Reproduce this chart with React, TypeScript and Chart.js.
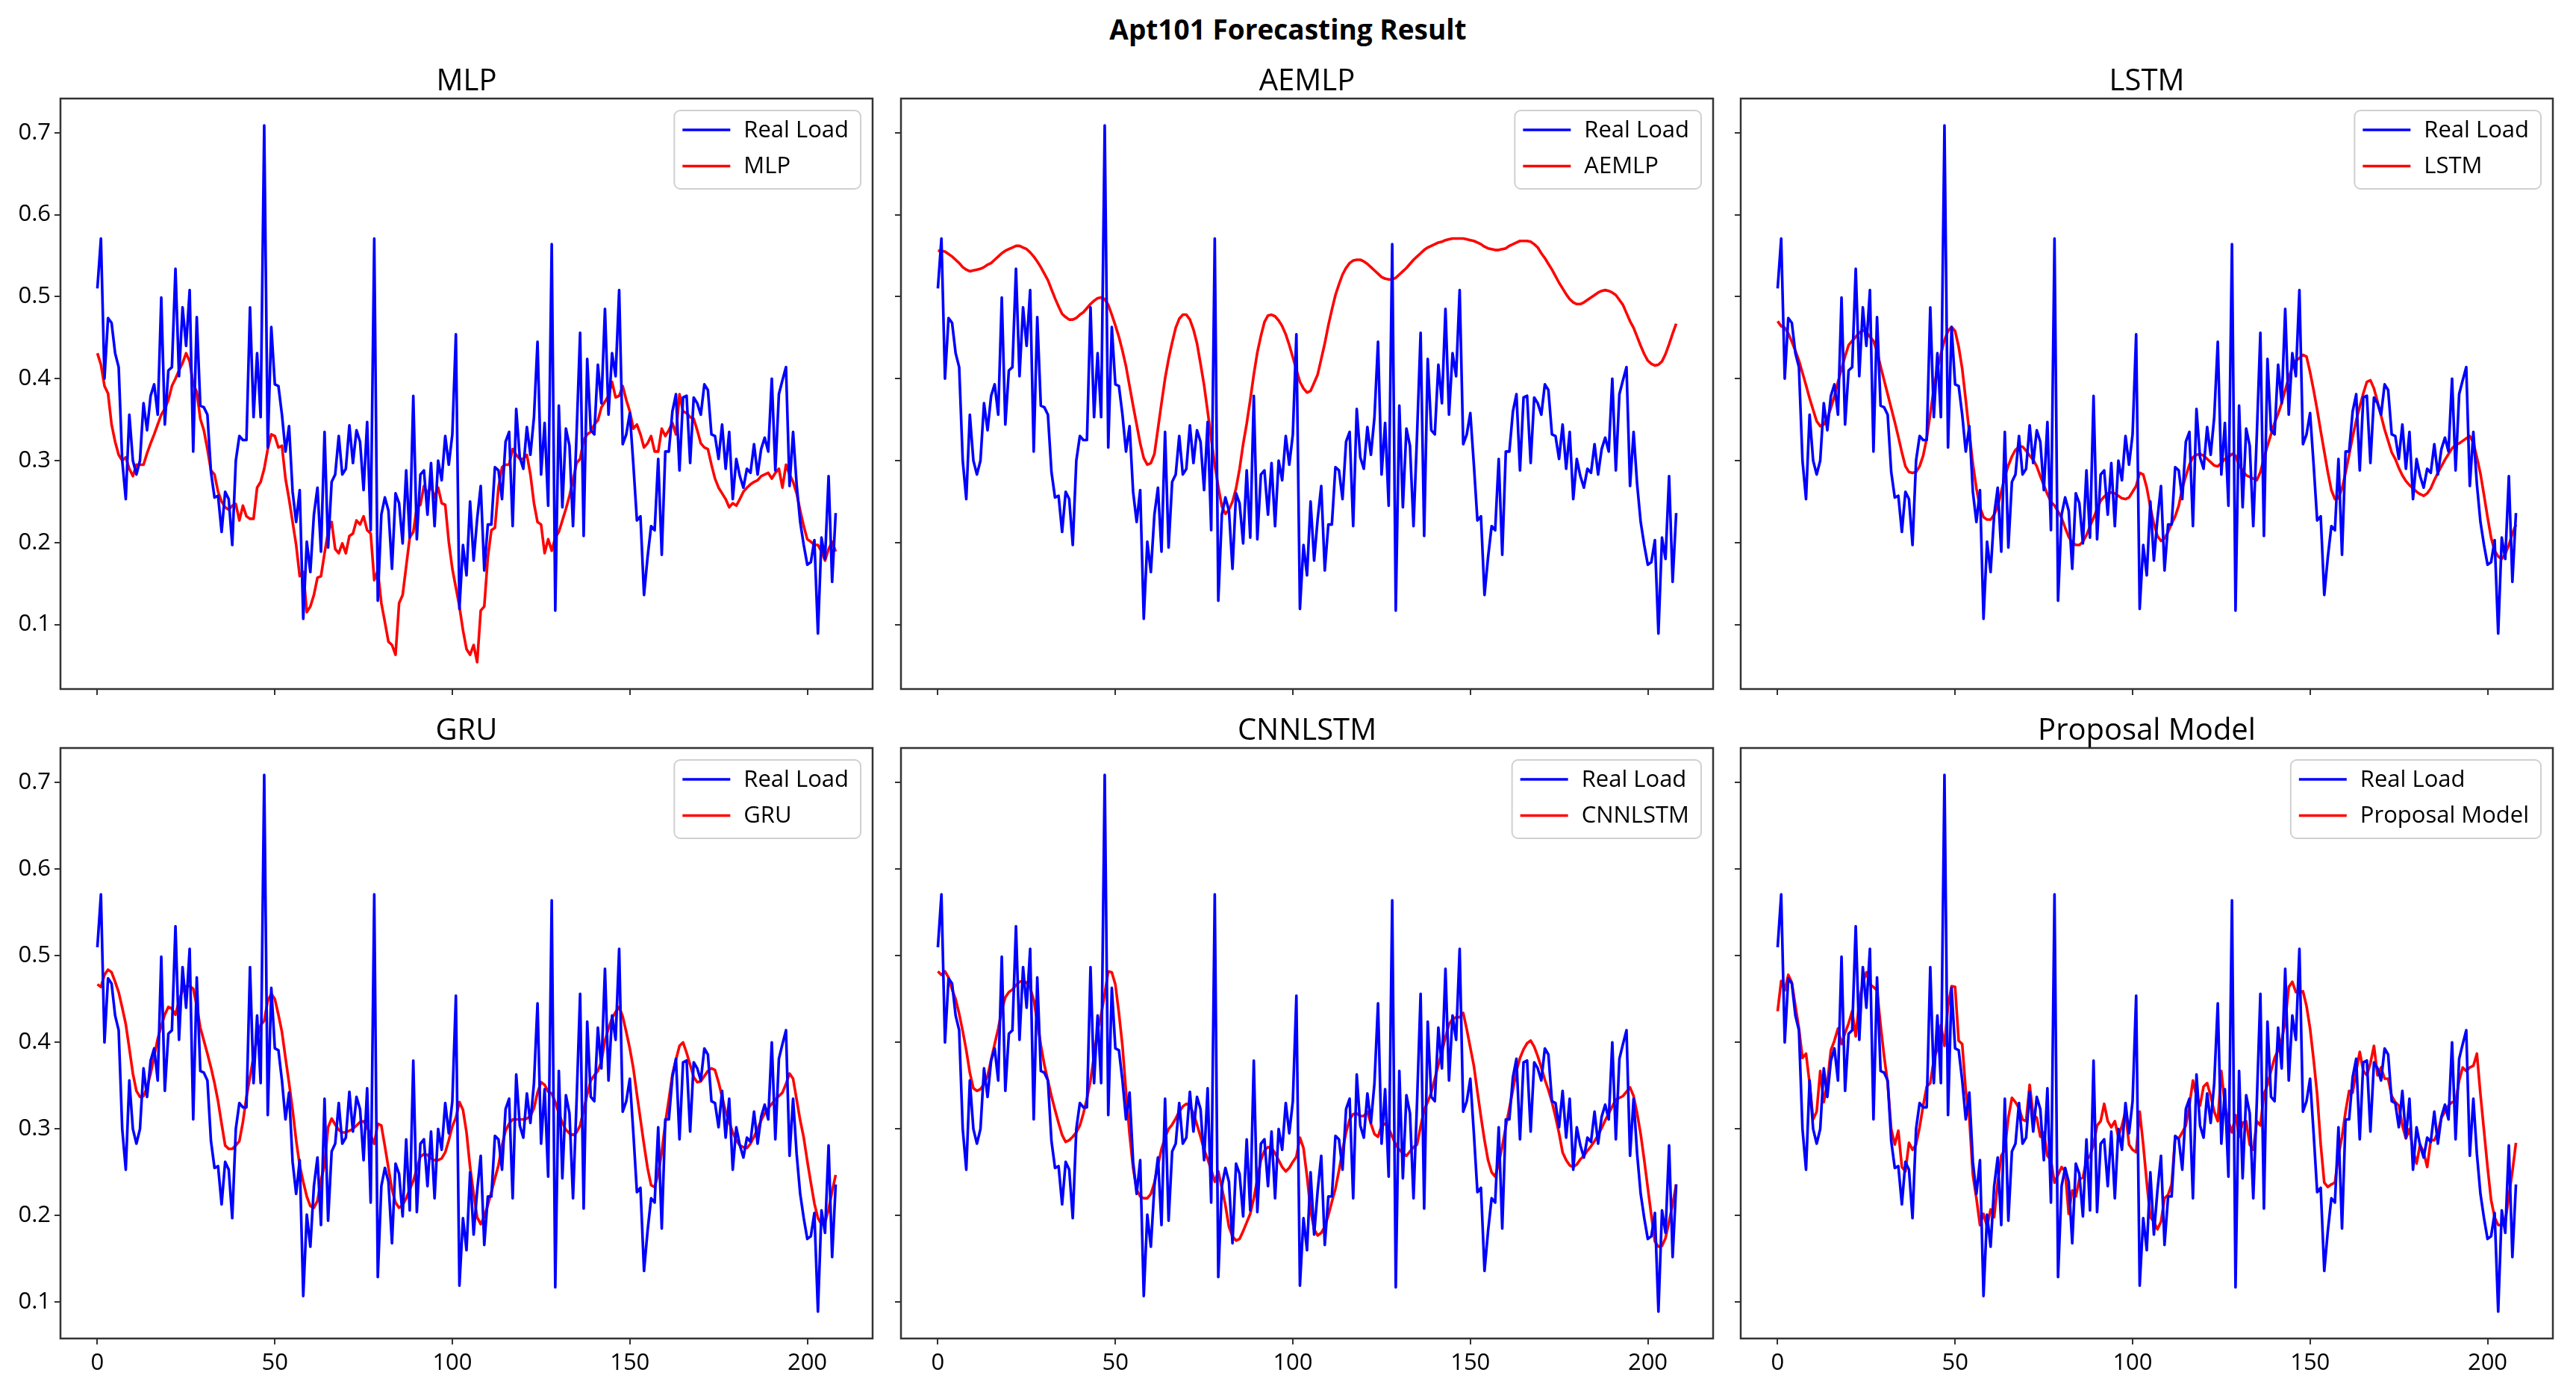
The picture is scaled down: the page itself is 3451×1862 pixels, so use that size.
import React, { useEffect, useRef } from "react";
import { Chart, registerables } from "chart.js";

Chart.register(...registerables);

// ---------------- data ----------------
const MAIN_TITLE = "Apt101 Forecasting Result";
const REAL_LABEL = "Real Load";
const MODEL_NAMES = ["MLP", "AEMLP", "LSTM", "GRU", "CNNLSTM", "Proposal Model"];
const X_TICKS = [0, 50, 100, 150, 200];
const Y_TICKS = [0.1, 0.2, 0.3, 0.4, 0.5, 0.6, 0.7];

const REAL_LOAD = [
  0.510, 0.571, 0.400, 0.474, 0.468, 0.431, 0.414, 0.300, 0.253, 0.356,
  0.300, 0.283, 0.300, 0.370, 0.337, 0.379, 0.393, 0.356, 0.499, 0.344,
  0.410, 0.414, 0.534, 0.403, 0.487, 0.440, 0.508, 0.311, 0.475, 0.367,
  0.365, 0.356, 0.286, 0.255, 0.257, 0.213, 0.262, 0.253, 0.197, 0.300,
  0.330, 0.325, 0.325, 0.487, 0.353, 0.431, 0.353, 0.709, 0.316, 0.463,
  0.393, 0.391, 0.356, 0.311, 0.342, 0.262, 0.225, 0.264, 0.107, 0.201,
  0.164, 0.234, 0.267, 0.189, 0.335, 0.194, 0.274, 0.283, 0.330, 0.283,
  0.290, 0.343, 0.297, 0.337, 0.323, 0.264, 0.347, 0.215, 0.571, 0.129,
  0.234, 0.255, 0.239, 0.168, 0.260, 0.248, 0.199, 0.288, 0.206, 0.379,
  0.204, 0.283, 0.288, 0.234, 0.297, 0.220, 0.300, 0.276, 0.330, 0.295,
  0.332, 0.454, 0.119, 0.197, 0.160, 0.250, 0.178, 0.229, 0.269, 0.166,
  0.222, 0.222, 0.292, 0.288, 0.253, 0.323, 0.335, 0.220, 0.363, 0.304,
  0.290, 0.341, 0.307, 0.353, 0.445, 0.283, 0.346, 0.245, 0.564, 0.117,
  0.367, 0.243, 0.339, 0.318, 0.220, 0.332, 0.456, 0.208, 0.424, 0.337,
  0.332, 0.417, 0.370, 0.485, 0.356, 0.431, 0.403, 0.508, 0.320, 0.332,
  0.358, 0.295, 0.227, 0.232, 0.136, 0.182, 0.220, 0.215, 0.302, 0.185,
  0.311, 0.311, 0.360, 0.381, 0.288, 0.377, 0.379, 0.297, 0.377, 0.370,
  0.356, 0.393, 0.386, 0.332, 0.330, 0.302, 0.344, 0.290, 0.335, 0.253,
  0.302, 0.281, 0.267, 0.290, 0.285, 0.320, 0.283, 0.314, 0.328, 0.311,
  0.400, 0.288, 0.381, 0.398, 0.414, 0.269, 0.335, 0.271, 0.225, 0.197,
  0.173, 0.176, 0.203, 0.089, 0.206, 0.180, 0.281, 0.152, 0.236,
];

const MLP = [
  0.431, 0.417, 0.391, 0.382, 0.344, 0.323, 0.307, 0.300, 0.304, 0.290,
  0.281, 0.295, 0.295, 0.295, 0.309, 0.321, 0.332, 0.344, 0.356, 0.363,
  0.374, 0.391, 0.400, 0.410, 0.419, 0.431, 0.421, 0.393, 0.384, 0.351,
  0.337, 0.314, 0.288, 0.283, 0.262, 0.250, 0.243, 0.240, 0.245, 0.247,
  0.227, 0.245, 0.232, 0.229, 0.229, 0.267, 0.274, 0.290, 0.314, 0.332,
  0.330, 0.316, 0.318, 0.278, 0.253, 0.225, 0.197, 0.159, 0.164, 0.115,
  0.122, 0.136, 0.157, 0.159, 0.187, 0.213, 0.225, 0.192, 0.187, 0.199,
  0.187, 0.208, 0.211, 0.227, 0.222, 0.232, 0.215, 0.211, 0.154, 0.166,
  0.126, 0.103, 0.079, 0.075, 0.063, 0.126, 0.136, 0.171, 0.206, 0.213,
  0.243, 0.246, 0.269, 0.260, 0.269, 0.255, 0.267, 0.248, 0.246, 0.201,
  0.168, 0.145, 0.122, 0.093, 0.070, 0.063, 0.075, 0.054, 0.117, 0.122,
  0.182, 0.215, 0.218, 0.267, 0.292, 0.295, 0.295, 0.314, 0.307, 0.302,
  0.302, 0.307, 0.283, 0.248, 0.225, 0.222, 0.187, 0.204, 0.190, 0.206,
  0.213, 0.227, 0.241, 0.257, 0.276, 0.297, 0.302, 0.325, 0.332, 0.335,
  0.344, 0.349, 0.365, 0.372, 0.379, 0.396, 0.377, 0.379, 0.391, 0.374,
  0.360, 0.339, 0.344, 0.332, 0.316, 0.321, 0.330, 0.311, 0.311, 0.339,
  0.330, 0.337, 0.346, 0.332, 0.381, 0.360, 0.358, 0.353, 0.351, 0.337,
  0.321, 0.316, 0.314, 0.295, 0.278, 0.267, 0.260, 0.253, 0.243, 0.248,
  0.245, 0.253, 0.262, 0.267, 0.271, 0.274, 0.276, 0.281, 0.283, 0.285,
  0.278, 0.285, 0.290, 0.267, 0.295, 0.283, 0.274, 0.260, 0.239, 0.220,
  0.204, 0.201, 0.197, 0.197, 0.189, 0.178, 0.192, 0.201, 0.189,
];

const AEMLP = [
  0.556, 0.556, 0.555, 0.552, 0.549, 0.545, 0.541, 0.536, 0.533, 0.531,
  0.532, 0.533, 0.534, 0.536, 0.539, 0.541, 0.545, 0.549, 0.553, 0.556,
  0.558, 0.560, 0.562, 0.562, 0.560, 0.558, 0.554, 0.549, 0.543, 0.536,
  0.528, 0.520, 0.509, 0.498, 0.488, 0.479, 0.475, 0.472, 0.472, 0.474,
  0.478, 0.481, 0.486, 0.491, 0.495, 0.498, 0.499, 0.497, 0.490, 0.478,
  0.465, 0.451, 0.434, 0.415, 0.391, 0.367, 0.344, 0.321, 0.303, 0.295,
  0.297, 0.308, 0.339, 0.370, 0.400, 0.424, 0.444, 0.462, 0.473, 0.478,
  0.478, 0.472, 0.460, 0.443, 0.418, 0.392, 0.360, 0.327, 0.295, 0.268,
  0.244, 0.235, 0.240, 0.250, 0.266, 0.290, 0.320, 0.345, 0.374, 0.405,
  0.432, 0.452, 0.469, 0.477, 0.478, 0.476, 0.471, 0.464, 0.454, 0.441,
  0.426, 0.411, 0.396, 0.388, 0.383, 0.385, 0.395, 0.405, 0.424, 0.443,
  0.465, 0.484, 0.502, 0.515, 0.527, 0.535, 0.541, 0.544, 0.545, 0.545,
  0.543, 0.540, 0.536, 0.532, 0.528, 0.524, 0.522, 0.521, 0.521, 0.523,
  0.527, 0.531, 0.535, 0.540, 0.545, 0.549, 0.553, 0.557, 0.560, 0.562,
  0.564, 0.566, 0.567, 0.569, 0.570, 0.571, 0.571, 0.571, 0.571, 0.570,
  0.569, 0.568, 0.566, 0.564, 0.561, 0.559, 0.558, 0.557, 0.557, 0.558,
  0.559, 0.562, 0.564, 0.566, 0.568, 0.568, 0.568, 0.567, 0.564, 0.560,
  0.553, 0.547, 0.540, 0.533, 0.525, 0.517, 0.510, 0.503, 0.497, 0.493,
  0.491, 0.491, 0.493, 0.496, 0.499, 0.502, 0.505, 0.507, 0.508, 0.507,
  0.505, 0.502, 0.496, 0.490, 0.480, 0.470, 0.462, 0.451, 0.440, 0.430,
  0.422, 0.418, 0.416, 0.417, 0.421, 0.430, 0.442, 0.455, 0.467,
];

const LSTM = [
  0.470, 0.464, 0.462, 0.455, 0.445, 0.434, 0.422, 0.407, 0.392, 0.376,
  0.362, 0.348, 0.342, 0.344, 0.352, 0.364, 0.379, 0.396, 0.412, 0.427,
  0.441, 0.446, 0.451, 0.456, 0.459, 0.457, 0.451, 0.446, 0.433, 0.415,
  0.398, 0.381, 0.364, 0.347, 0.329, 0.310, 0.293, 0.286, 0.285, 0.286,
  0.293, 0.306, 0.327, 0.357, 0.388, 0.412, 0.430, 0.447, 0.458, 0.463,
  0.458, 0.439, 0.412, 0.374, 0.334, 0.296, 0.266, 0.243, 0.231, 0.228,
  0.228, 0.234, 0.244, 0.262, 0.280, 0.294, 0.305, 0.313, 0.317, 0.317,
  0.312, 0.306, 0.301, 0.293, 0.281, 0.270, 0.259, 0.250, 0.245, 0.238,
  0.230, 0.218, 0.207, 0.200, 0.197, 0.197, 0.201, 0.209, 0.220, 0.230,
  0.241, 0.251, 0.256, 0.260, 0.261, 0.260, 0.257, 0.254, 0.253, 0.255,
  0.262, 0.269, 0.285, 0.283, 0.267, 0.243, 0.223, 0.208, 0.202, 0.205,
  0.213, 0.223, 0.232, 0.245, 0.266, 0.281, 0.295, 0.304, 0.307, 0.308,
  0.306, 0.302, 0.298, 0.294, 0.293, 0.297, 0.302, 0.304, 0.308, 0.306,
  0.294, 0.288, 0.282, 0.280, 0.278, 0.276, 0.286, 0.303, 0.318, 0.332,
  0.346, 0.357, 0.370, 0.386, 0.401, 0.414, 0.422, 0.425, 0.429, 0.427,
  0.408, 0.386, 0.362, 0.336, 0.311, 0.286, 0.264, 0.253, 0.254, 0.266,
  0.285, 0.307, 0.329, 0.349, 0.366, 0.382, 0.396, 0.398, 0.388, 0.372,
  0.355, 0.338, 0.324, 0.310, 0.302, 0.291, 0.282, 0.275, 0.270, 0.266,
  0.262, 0.259, 0.257, 0.260, 0.266, 0.276, 0.285, 0.293, 0.301, 0.308,
  0.315, 0.319, 0.321, 0.324, 0.327, 0.330, 0.322, 0.304, 0.284, 0.258,
  0.231, 0.206, 0.190, 0.183, 0.180, 0.186, 0.197, 0.211, 0.222,
];

const GRU = [
  0.467, 0.464, 0.478, 0.484, 0.481, 0.470, 0.458, 0.440, 0.421, 0.393,
  0.364, 0.344, 0.337, 0.338, 0.348, 0.364, 0.384, 0.404, 0.419, 0.432,
  0.441, 0.439, 0.432, 0.448, 0.460, 0.465, 0.465, 0.462, 0.442, 0.417,
  0.402, 0.387, 0.371, 0.353, 0.332, 0.306, 0.281, 0.277, 0.277, 0.281,
  0.286, 0.308, 0.337, 0.360, 0.384, 0.405, 0.420, 0.425, 0.448, 0.456,
  0.450, 0.432, 0.412, 0.382, 0.353, 0.322, 0.287, 0.258, 0.239, 0.222,
  0.211, 0.209, 0.217, 0.241, 0.258, 0.302, 0.312, 0.305, 0.299, 0.296,
  0.296, 0.298, 0.300, 0.304, 0.308, 0.309, 0.302, 0.293, 0.283, 0.306,
  0.304, 0.280, 0.255, 0.230, 0.215, 0.209, 0.212, 0.220, 0.230, 0.240,
  0.254, 0.268, 0.271, 0.270, 0.266, 0.264, 0.264, 0.266, 0.273, 0.287,
  0.303, 0.313, 0.331, 0.322, 0.296, 0.256, 0.225, 0.198, 0.190, 0.199,
  0.212, 0.227, 0.243, 0.258, 0.281, 0.298, 0.306, 0.311, 0.311, 0.311,
  0.311, 0.312, 0.315, 0.324, 0.342, 0.354, 0.351, 0.343, 0.341, 0.331,
  0.318, 0.307, 0.299, 0.295, 0.293, 0.296, 0.304, 0.322, 0.340, 0.356,
  0.362, 0.367, 0.378, 0.402, 0.416, 0.428, 0.435, 0.441, 0.430, 0.412,
  0.393, 0.370, 0.340, 0.311, 0.282, 0.255, 0.235, 0.233, 0.248, 0.273,
  0.307, 0.334, 0.363, 0.380, 0.396, 0.400, 0.388, 0.374, 0.360, 0.354,
  0.355, 0.361, 0.367, 0.370, 0.368, 0.354, 0.337, 0.320, 0.308, 0.296,
  0.287, 0.281, 0.279, 0.278, 0.283, 0.291, 0.300, 0.310, 0.318, 0.324,
  0.329, 0.334, 0.338, 0.342, 0.352, 0.364, 0.358, 0.334, 0.310, 0.290,
  0.263, 0.238, 0.214, 0.197, 0.190, 0.192, 0.207, 0.228, 0.247,
];

const CNNLSTM = [
  0.482, 0.478, 0.482, 0.475, 0.461, 0.450, 0.433, 0.413, 0.391, 0.365,
  0.347, 0.344, 0.346, 0.352, 0.361, 0.380, 0.398, 0.416, 0.437, 0.452,
  0.458, 0.461, 0.466, 0.470, 0.471, 0.469, 0.463, 0.449, 0.424, 0.397,
  0.374, 0.356, 0.338, 0.322, 0.307, 0.293, 0.285, 0.287, 0.291, 0.296,
  0.304, 0.318, 0.335, 0.356, 0.385, 0.414, 0.432, 0.456, 0.482, 0.481,
  0.467, 0.434, 0.396, 0.343, 0.294, 0.255, 0.230, 0.222, 0.220, 0.220,
  0.225, 0.238, 0.258, 0.277, 0.290, 0.300, 0.305, 0.312, 0.320, 0.326,
  0.329, 0.327, 0.318, 0.305, 0.291, 0.276, 0.265, 0.253, 0.239, 0.251,
  0.232, 0.212, 0.187, 0.176, 0.171, 0.173, 0.182, 0.192, 0.202, 0.220,
  0.242, 0.264, 0.275, 0.279, 0.278, 0.272, 0.264, 0.256, 0.251, 0.255,
  0.262, 0.268, 0.290, 0.278, 0.245, 0.206, 0.184, 0.177, 0.180, 0.187,
  0.200, 0.216, 0.231, 0.252, 0.275, 0.296, 0.311, 0.317, 0.318, 0.315,
  0.315, 0.320, 0.306, 0.294, 0.291, 0.304, 0.306, 0.301, 0.291, 0.282,
  0.276, 0.272, 0.269, 0.274, 0.279, 0.282, 0.303, 0.322, 0.331, 0.342,
  0.358, 0.374, 0.389, 0.406, 0.421, 0.427, 0.429, 0.429, 0.434, 0.415,
  0.394, 0.373, 0.343, 0.314, 0.287, 0.264, 0.250, 0.245, 0.260, 0.280,
  0.303, 0.324, 0.345, 0.367, 0.382, 0.392, 0.399, 0.402, 0.395, 0.384,
  0.371, 0.357, 0.345, 0.331, 0.314, 0.295, 0.273, 0.264, 0.258, 0.256,
  0.259, 0.265, 0.269, 0.275, 0.280, 0.286, 0.293, 0.301, 0.310, 0.318,
  0.326, 0.334, 0.336, 0.338, 0.343, 0.348, 0.338, 0.318, 0.294, 0.264,
  0.232, 0.200, 0.170, 0.164, 0.165, 0.174, 0.193, 0.213, 0.236,
];

const PROPOSAL = [
  0.436, 0.471, 0.460, 0.478, 0.469, 0.442, 0.416, 0.382, 0.387, 0.353,
  0.311, 0.320, 0.367, 0.331, 0.353, 0.391, 0.402, 0.416, 0.398, 0.411,
  0.422, 0.436, 0.407, 0.447, 0.469, 0.481, 0.467, 0.464, 0.460, 0.420,
  0.384, 0.353, 0.300, 0.282, 0.298, 0.256, 0.251, 0.284, 0.276, 0.282,
  0.302, 0.327, 0.349, 0.353, 0.380, 0.393, 0.420, 0.396, 0.442, 0.465,
  0.464, 0.402, 0.398, 0.344, 0.313, 0.247, 0.220, 0.189, 0.202, 0.187,
  0.207, 0.198, 0.238, 0.269, 0.276, 0.313, 0.336, 0.331, 0.324, 0.311,
  0.309, 0.351, 0.316, 0.313, 0.291, 0.296, 0.269, 0.264, 0.238, 0.247,
  0.256, 0.251, 0.202, 0.229, 0.222, 0.242, 0.244, 0.264, 0.269, 0.282,
  0.304, 0.309, 0.329, 0.309, 0.302, 0.309, 0.291, 0.304, 0.320, 0.282,
  0.276, 0.273, 0.320, 0.282, 0.238, 0.198, 0.193, 0.184, 0.193, 0.220,
  0.224, 0.236, 0.291, 0.289, 0.296, 0.304, 0.327, 0.356, 0.338, 0.327,
  0.349, 0.353, 0.338, 0.320, 0.309, 0.367, 0.327, 0.309, 0.296, 0.316,
  0.291, 0.307, 0.309, 0.282, 0.276, 0.309, 0.304, 0.340, 0.351, 0.367,
  0.382, 0.391, 0.402, 0.424, 0.464, 0.470, 0.458, 0.458, 0.459, 0.442,
  0.416, 0.380, 0.340, 0.282, 0.238, 0.233, 0.236, 0.238, 0.269, 0.291,
  0.320, 0.344, 0.342, 0.367, 0.389, 0.367, 0.362, 0.376, 0.396, 0.362,
  0.371, 0.358, 0.358, 0.338, 0.331, 0.327, 0.304, 0.289, 0.300, 0.276,
  0.260, 0.282, 0.273, 0.256, 0.287, 0.287, 0.296, 0.313, 0.320, 0.327,
  0.331, 0.331, 0.356, 0.371, 0.367, 0.371, 0.373, 0.387, 0.340, 0.298,
  0.256, 0.218, 0.198, 0.189, 0.189, 0.193, 0.222, 0.251, 0.284,
];

const FORECASTS = [MLP, AEMLP, LSTM, GRU, CNNLSTM, PROPOSAL];

// ---------------- layout ----------------
const FONT = "'Open Sans', 'Noto Sans', 'DejaVu Sans', sans-serif";
const PAGE_W = 3451;
const PAGE_H = 1862;
const FRAME_LEFTS = [81, 1207, 2332];
const FRAME_TOPS = [132, 1002];
const FRAME_W = 1088;
const FRAME_H = 791;
const PAD_L = 82;
const PAD_T = 72;
const PAD_R = 12;
const PAD_B = 70;
const TICK_FONT = 31;
const LEGEND_FONT = 31;
const SUB_TITLE_FONT = 40;
const MAIN_TITLE_FONT = 37;
const SUB_TITLE_OFFSET = 25;
const LINE_W = 3.6;
const AXIS_COLOR = "#333333";

function rowRange(series: number[][]) {
  let lo = Infinity;
  let hi = -Infinity;
  series.forEach((s) => s.forEach((v) => { if (v < lo) lo = v; if (v > hi) hi = v; }));
  const m = (hi - lo) * 0.05;
  return [lo - m, hi + m];
}

function makePlugins(title: string, labels: string[], colors: string[]) {
  return [
    {
      id: "frameAndText",
      afterDatasetsDraw(chart: any) {
        const { ctx, chartArea: a } = chart;
        ctx.save();
        ctx.font = `${LEGEND_FONT}px ${FONT}`;
        const textW = Math.max(...labels.map((l) => ctx.measureText(l).width));
        const padL = 11, handle = 64, gap = 18, padR = 16;
        const boxW = padL + handle + gap + textW + padR;
        const boxH = 105;
        const bx = a.right - 16 - boxW;
        const by = a.top + 16;
        const r = 8;
        ctx.beginPath();
        ctx.moveTo(bx + r, by);
        ctx.lineTo(bx + boxW - r, by);
        ctx.arcTo(bx + boxW, by, bx + boxW, by + r, r);
        ctx.lineTo(bx + boxW, by + boxH - r);
        ctx.arcTo(bx + boxW, by + boxH, bx + boxW - r, by + boxH, r);
        ctx.lineTo(bx + r, by + boxH);
        ctx.arcTo(bx, by + boxH, bx, by + boxH - r, r);
        ctx.lineTo(bx, by + r);
        ctx.arcTo(bx, by, bx + r, by, r);
        ctx.closePath();
        ctx.fillStyle = "rgba(255,255,255,0.8)";
        ctx.fill();
        ctx.strokeStyle = "#d0d0d0";
        ctx.lineWidth = 2;
        ctx.stroke();
        labels.forEach((l, k) => {
          const y = by + 26 + k * 48.5;
          ctx.strokeStyle = colors[k];
          ctx.lineWidth = LINE_W;
          ctx.beginPath();
          ctx.moveTo(bx + padL, y);
          ctx.lineTo(bx + padL + handle, y);
          ctx.stroke();
          ctx.fillStyle = "#000";
          ctx.textAlign = "left";
          ctx.textBaseline = "middle";
          ctx.fillText(l, bx + padL + handle + gap, y + 1);
        });
        ctx.restore();
      },
      afterDraw(chart: any) {
        const { ctx, chartArea: a } = chart;
        ctx.save();
        ctx.strokeStyle = AXIS_COLOR;
        ctx.lineWidth = 2.5;
        ctx.strokeRect(a.left, a.top, a.right - a.left, a.bottom - a.top);
        ctx.fillStyle = "#000";
        ctx.font = `${SUB_TITLE_FONT}px ${FONT}`;
        ctx.textAlign = "center";
        ctx.textBaseline = "alphabetic";
        ctx.fillText(title, (a.left + a.right) / 2, a.top - SUB_TITLE_OFFSET + SUB_TITLE_FONT * 0.357);
        ctx.restore();
      },
    },
  ];
}

export default function App() {
  const refs = useRef<(HTMLCanvasElement | null)[]>([]);

  useEffect(() => {
    const n = REAL_LOAD.length;
    const xMin = -(n - 1) * 0.05;
    const xMax = (n - 1) * 1.05;
    const ranges = [
      rowRange([REAL_LOAD, ...FORECASTS.slice(0, 3)]),
      rowRange([REAL_LOAD, ...FORECASTS.slice(3, 6)]),
    ];
    const charts: Chart[] = [];
    FORECASTS.forEach((fc, p) => {
      const canvas = refs.current[p];
      if (!canvas) return;
      const row = Math.floor(p / 3);
      const col = p % 3;
      const [yMin, yMax] = ranges[row];
      const chart = new Chart(canvas, {
        type: "line",
        data: {
          datasets: [
            {
              label: REAL_LABEL,
              data: REAL_LOAD.map((v, i) => ({ x: i, y: v })),
              borderColor: "#0000ff",
              backgroundColor: "#0000ff",
              borderWidth: LINE_W,
              pointRadius: 0,
              tension: 0,
              borderJoinStyle: "round",
            },
            {
              label: MODEL_NAMES[p],
              data: fc.map((v, i) => ({ x: i, y: v })),
              borderColor: "#ff0000",
              backgroundColor: "#ff0000",
              borderWidth: LINE_W,
              pointRadius: 0,
              tension: 0,
              borderJoinStyle: "round",
            },
          ],
        },
        options: {
          animation: false,
          responsive: false,
          devicePixelRatio: 1,
          events: [],
          layout: { padding: { left: 0, top: PAD_T, right: PAD_R, bottom: 0 }, autoPadding: false },
          plugins: { legend: { display: false }, title: { display: false }, tooltip: { enabled: false } },
          scales: {
            x: {
              type: "linear",
              min: xMin,
              max: xMax,
              afterFit: (s: any) => { s.height = PAD_B; },
              afterBuildTicks: (s: any) => { s.ticks = X_TICKS.map((v) => ({ value: v })); },
              ticks: {
                display: row === 1,
                font: { family: FONT, size: TICK_FONT },
                color: "#000",
                padding: 7,
                maxRotation: 0,
                autoSkip: false,
                callback: (v: any) => String(v),
              },
              grid: { drawOnChartArea: false, drawTicks: true, tickLength: 8, color: AXIS_COLOR, lineWidth: 2 },
              border: { display: false },
            },
            y: {
              type: "linear",
              min: yMin,
              max: yMax,
              afterFit: (s: any) => { s.width = PAD_L; },
              afterBuildTicks: (s: any) => { s.ticks = Y_TICKS.map((v) => ({ value: v })); },
              ticks: {
                display: col === 0,
                font: { family: FONT, size: TICK_FONT },
                color: "#000",
                padding: 5,
                autoSkip: false,
                callback: (v: any) => Number(v).toFixed(1),
              },
              grid: { drawOnChartArea: false, drawTicks: true, tickLength: 8, color: AXIS_COLOR, lineWidth: 2 },
              border: { display: false },
            },
          },
        },
        plugins: makePlugins(MODEL_NAMES[p], [REAL_LABEL, MODEL_NAMES[p]], ["#0000ff", "#ff0000"]) as any,
      } as any);
      charts.push(chart);
    });
    return () => charts.forEach((c) => c.destroy());
  }, []);

  const panels = FORECASTS.map((_, p) => {
    const row = Math.floor(p / 3);
    const col = p % 3;
    const left = FRAME_LEFTS[col] - PAD_L;
    const top = FRAME_TOPS[row] - PAD_T;
    const w = FRAME_W + PAD_L + PAD_R;
    const h = FRAME_H + PAD_T + PAD_B;
    return (
      <canvas
        key={p}
        ref={(el) => { refs.current[p] = el; }}
        width={w}
        height={h}
        style={{ position: "absolute", left, top, width: w, height: h }}
      />
    );
  });

  return (
    <div style={{ position: "fixed", left: 0, top: 0, width: PAGE_W, height: PAGE_H, background: "#fff", overflow: "hidden" }}>
      <div
        style={{
          position: "absolute",
          left: 0,
          top: 20,
          width: PAGE_W,
          textAlign: "center",
          fontFamily: FONT,
          fontWeight: 700,
          fontSize: MAIN_TITLE_FONT,
          lineHeight: `${MAIN_TITLE_FONT}px`,
          color: "#000",
        }}
      >
        {MAIN_TITLE}
      </div>
      {panels}
    </div>
  );
}
